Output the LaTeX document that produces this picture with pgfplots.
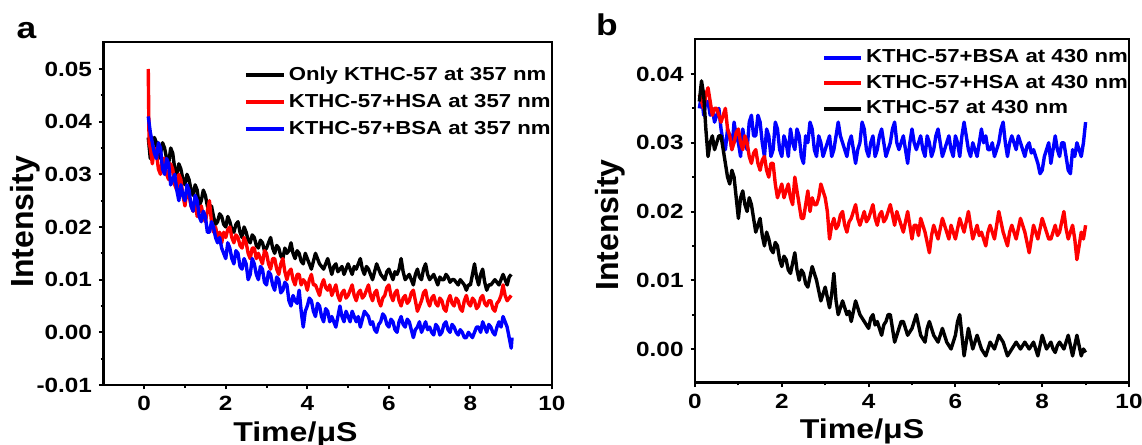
\documentclass[border=0pt]{standalone}
\usepackage{fontspec}
\setmainfont{Liberation Sans}[FakeStretch=1.18]
\newfontfamily\plainsans{Liberation Sans}
\usepackage{pgfplots}
\pgfplotsset{compat=1.18}

% intensities are typed in units of 1e-3
\pgfplotsset{
  decay/.style={
    scale only axis,
    anchor=south west,
    axis line style={line width=1.2pt},
    tick style={line width=1pt, black},
    tick align=outside,
    major tick length=2.2pt,
    minor tick length=1.4pt,
    xtick pos=bottom, ytick pos=left,
    xtick={0,2,...,10},
    minor xtick={1,3,...,9},
    tick label style={font=\fontsize{10.3}{12}\selectfont\bfseries},
    /pgf/number format/assume math mode=true,
    xlabel={Time/μS},
    ylabel={Intensity},
    xlabel style={font=\fontsize{13.6}{15}\selectfont\bfseries, anchor=center},
    ylabel style={font=\plainsans\fontsize{16}{18}\selectfont\bfseries, anchor=center},
    legend cell align=left,
    every axis plot/.append style={line width=1.7pt, line join=round},
  },
  leg/.style={
    legend style={at={(axis description cs:#1)}, anchor=north west,
      draw=none, fill=none, font=\fontsize{9.4}{11}\selectfont\bfseries,
      inner sep=0pt,
      nodes={text height=7pt, text depth=2pt, inner sep=1.5pt}},
  },
}

\begin{document}
\begin{tikzpicture}
\useasboundingbox (0,0) rectangle (571pt,222.5pt);

% panel a
\begin{axis}[decay,
  at={(51.7pt,30pt)}, width=224.3pt, height=171.35pt,
  xmin=-1, xmax=10, ymin=-10, ymax=55.07,
  ytick={-10,0,10,20,30,40,50},
  yticklabels={-0.01,0.00,0.01,0.02,0.03,0.04,0.05},
  minor ytick={-5,5,15,25,35,45},
  x label style={at={(axis description cs:0.428,0)}, yshift=-24.5pt},
  y label style={at={(axis description cs:0,0.476)}, yshift=39pt},
  leg={0.312,0.9396},
  legend style={row sep=1.5pt, /tikz/every even column/.append style={column sep=0.8pt}},
  legend image code/.code={\draw[#1, line width=2pt] (0pt,0pt) -- (19pt,0pt);},
]
\addplot[black] coordinates {
(0.1,37)(0.15,33)(0.2,35)(0.25,37)(0.3,36)(0.35,33)(0.4,34)(0.45,36)(0.5,35)(0.55,33)
(0.6,32)(0.65,35)(0.7,34)(0.75,31)(0.8,30)(0.85,32)(0.9,31)(0.95,29)(1.0,28)(1.05,30)
(1.1,29)(1.15,27)(1.2,26)(1.25,28)(1.3,27)(1.35,24)(1.4,25)(1.45,27)(1.5,26)(1.55,24)
(1.6,23)(1.65,24)(1.7,22)(1.75,20.5)(1.8,21)(1.85,22.5)(1.9,22)(1.95,20.5)(2.0,20)(2.05,22)
(2.1,21)(2.15,19.5)(2.2,19)(2.25,20.5)(2.3,21)(2.35,19)(2.4,18)(2.45,20)(2.5,19)(2.55,17.5)
(2.6,17)(2.65,18.5)(2.7,18)(2.75,16.5)(2.8,16)(2.85,17.5)(2.9,17)(2.95,15.5)(3.0,16)(3.05,17)
(3.1,18)(3.15,16)(3.2,15)(3.25,16.5)(3.3,16)(3.35,14.5)(3.4,14)(3.45,16)(3.5,15)(3.55,15.5)
(3.6,17)(3.65,15)(3.7,14)(3.75,15.5)(3.8,15)(3.85,13.5)(3.9,13)(3.95,15)(4.0,14)(4.05,13)
(4.1,12)(4.15,13.5)(4.2,15)(4.25,14)(4.3,13)(4.35,12.5)(4.4,12)(4.45,13)(4.5,14)(4.55,12.5)
(4.6,11)(4.65,12.5)(4.7,13)(4.75,11.5)(4.8,12)(4.85,12.5)(4.9,11)(4.95,12)(5.0,13)(5.05,12)
(5.1,11)(5.15,12.5)(5.2,12)(5.25,13)(5.3,14)(5.35,12)(5.4,11)(5.45,12.5)(5.5,12)(5.55,11)
(5.6,10)(5.65,11.5)(5.7,13)(5.75,12)(5.8,11)(5.85,10.5)(5.9,10)(5.95,11.5)(6.0,12)(6.05,11)
(6.1,10)(6.15,11.5)(6.2,11)(6.25,12)(6.3,14)(6.35,11.5)(6.4,10)(6.45,10.5)(6.5,11)(6.55,10)
(6.6,9)(6.65,11)(6.7,12)(6.75,10.5)(6.8,10)(6.85,12)(6.9,13)(6.95,11)(7.0,10)(7.05,10.5)
(7.1,11)(7.15,10)(7.2,9)(7.25,10.5)(7.3,10)(7.35,10)(7.4,11)(7.45,10.5)(7.5,9.5)(7.55,10)
(7.6,10)(7.65,9.5)(7.7,9)(7.75,10)(7.8,9.5)(7.85,9)(7.9,8)(7.95,9)(8.0,9)(8.05,11)
(8.1,13)(8.15,10.5)(8.2,9)(8.25,11)(8.3,12)(8.35,9.5)(8.4,8)(8.45,9)(8.5,9)(8.55,9.5)
(8.6,10)(8.65,9.5)(8.7,9)(8.75,10)(8.8,11)(8.85,10)(8.9,9)(8.95,10.5)(9.0,11)
};
\addlegendentry{Only KTHC-57 at 357 nm}
\addplot[red] coordinates {
(0.1,50)(0.12,36)(0.15,35)(0.2,32)(0.25,35)(0.3,34)(0.35,31)(0.4,30)(0.45,33)(0.5,33)
(0.55,30)(0.6,29)(0.65,32)(0.7,31)(0.75,28)(0.8,27)(0.85,30)(0.9,29)(0.95,26)(1.0,24)
(1.05,27)(1.1,26)(1.15,24)(1.2,23)(1.25,24.5)(1.3,22)(1.35,23)(1.4,24)(1.45,22)(1.5,21)
(1.55,23)(1.6,25)(1.65,21)(1.7,19)(1.75,20)(1.8,18)(1.85,19)(1.9,17)(1.95,19)(2.0,18)
(2.05,19.5)(2.1,20)(2.15,18)(2.2,17)(2.25,18.5)(2.3,18)(2.35,16.5)(2.4,16)(2.45,18)(2.5,17)
(2.55,15)(2.6,14)(2.65,16)(2.7,16)(2.75,14)(2.8,15)(2.85,14)(2.9,13)(2.95,15.5)(3.0,15)
(3.05,13)(3.1,12)(3.15,14)(3.2,14)(3.25,12)(3.3,11)(3.35,13)(3.4,14)(3.45,11.5)(3.5,10)
(3.55,11.5)(3.6,12)(3.65,10)(3.7,9)(3.75,11)(3.8,11)(3.85,9)(3.9,10)(3.95,9.5)(4.0,8)
(4.05,10)(4.1,11)(4.15,9)(4.2,9)(4.25,8)(4.3,7)(4.35,9)(4.4,10)(4.45,8.5)(4.5,8)
(4.55,9)(4.6,7)(4.65,8)(4.7,9)(4.75,7)(4.8,6)(4.85,7.5)(4.9,8)(4.95,6.5)(5.0,7)
(5.05,8)(5.1,9)(5.15,7)(5.2,6)(5.25,7.5)(5.3,8)(5.35,6.5)(5.4,7)(5.45,8)(5.5,9)
(5.55,7)(5.6,6)(5.65,7.5)(5.7,8)(5.75,6)(5.8,5)(5.85,6.5)(5.9,7)(5.95,8.5)(6.0,9)
(6.05,7)(6.1,6)(6.15,7.5)(6.2,8)(6.25,6)(6.3,5)(6.35,6.5)(6.4,7)(6.45,5.5)(6.5,6)
(6.55,7.5)(6.6,8)(6.65,6)(6.7,4)(6.75,5)(6.8,6)(6.85,7.5)(6.9,8)(6.95,6)(7.0,5)
(7.05,6.5)(7.1,7)(7.15,5.5)(7.2,5)(7.25,6.5)(7.3,6)(7.35,4.5)(7.4,4)(7.45,6)(7.5,7)
(7.55,5.5)(7.6,5)(7.65,6.5)(7.7,6)(7.75,4.5)(7.8,4)(7.85,6)(7.9,7)(7.95,5.5)(8.0,5)
(8.05,6.5)(8.1,6)(8.15,4.5)(8.2,5)(8.25,6.5)(8.3,7)(8.35,5.5)(8.4,5)(8.45,6)(8.5,6)
(8.55,4.5)(8.6,4)(8.65,5.5)(8.7,6)(8.75,7)(8.8,9)(8.85,7)(8.9,6)(8.95,6.5)(9.0,7)
};
\addlegendentry{KTHC-57+HSA at 357 nm}
\addplot[blue] coordinates {
(0.1,41)(0.15,38)(0.2,36)(0.25,34)(0.3,33)(0.35,36)(0.4,35)(0.45,31)(0.5,30)(0.55,33)
(0.6,32)(0.65,28)(0.7,29)(0.75,30)(0.8,27)(0.85,25)(0.9,28)(0.95,26)(1.0,25)(1.05,28)
(1.1,27)(1.15,24)(1.2,23)(1.25,26)(1.3,25)(1.35,22)(1.4,21)(1.45,23)(1.5,22)(1.55,19)
(1.6,19)(1.65,21)(1.7,20)(1.75,18)(1.8,17)(1.85,18)(1.9,16)(1.95,15)(2.0,14)(2.05,17)
(2.1,16)(2.15,14)(2.2,13)(2.25,15.5)(2.3,15)(2.35,12.5)(2.4,12)(2.45,14)(2.5,13)(2.55,10)
(2.6,11)(2.65,14)(2.7,13)(2.75,11)(2.8,10)(2.85,12.5)(2.9,12)(2.95,9.5)(3.0,9)(3.05,11.5)
(3.1,11)(3.15,9)(3.2,8)(3.25,10.5)(3.3,10)(3.35,7.5)(3.4,8)(3.45,9.5)(3.5,9)(3.55,6)
(3.6,5)(3.65,7)(3.7,6)(3.75,5.5)(3.8,8)(3.85,4)(3.9,1)(3.95,4)(4.0,5)(4.05,6.5)
(4.1,6)(4.15,4)(4.2,3)(4.25,5.5)(4.3,5)(4.35,3)(4.4,2)(4.45,4.5)(4.5,4)(4.55,2)
(4.6,3)(4.65,2)(4.7,1)(4.75,3)(4.8,5)(4.85,3)(4.9,2)(4.95,4)(5.0,3)(5.05,2)
(5.1,4)(5.15,3)(5.2,2)(5.25,3)(5.3,1)(5.35,2.5)(5.4,4)(5.45,3.5)(5.5,3)(5.55,1.5)
(5.6,2)(5.65,0.5)(5.7,0)(5.75,1.5)(5.8,2)(5.85,3.5)(5.9,3)(5.95,1.5)(6.0,1)(6.05,2.5)
(6.1,2)(6.15,0.5)(6.2,0)(6.25,2)(6.3,3)(6.35,1.5)(6.4,1)(6.45,2.5)(6.5,2)(6.55,0.5)
(6.6,-1)(6.65,0.5)(6.7,1)(6.75,2)(6.8,0)(6.85,1)(6.9,2)(6.95,0.5)(7.0,1)(7.05,0)
(7.1,-0.5)(7.15,1.5)(7.2,1)(7.25,-0.5)(7.3,0)(7.35,1.5)(7.4,2)(7.45,0.5)(7.5,0)(7.55,1.5)
(7.6,1)(7.65,0)(7.7,-0.5)(7.75,0.5)(7.8,0)(7.85,-1)(7.9,-1)(7.95,0)(8.0,-0.5)(8.05,-1)
(8.1,0)(8.15,1)(8.2,1)(8.25,0)(8.3,2)(8.35,1)(8.4,0)(8.45,1.5)(8.5,1)(8.55,0)
(8.6,-0.5)(8.65,1)(8.7,2)(8.75,1)(8.8,3)(8.85,2)(8.9,1)(8.95,-1)(9.0,-3)(9.02,-1)
};
\addlegendentry{KTHC-57+BSA at 357 nm}
\end{axis}

% panel b
\begin{axis}[decay,
  at={(347.5pt,31.15pt)}, width=217pt, height=171.7pt,
  xmin=0, xmax=10, ymin=-4.9, ymax=45.05,
  ytick={0,10,20,30,40},
  yticklabels={0.00,0.01,0.02,0.03,0.04},
  minor ytick={-5,5,15,25,35},
  x label style={at={(axis description cs:0.385,0)}, yshift=-24.5pt},
  y label style={at={(axis description cs:0,0.459)}, yshift=42.5pt},
  leg={0.2917,0.983},
  legend style={row sep=0.75pt, /tikz/every even column/.append style={column sep=2.5pt}},
  legend image code/.code={\draw[#1, line width=2pt] (0pt,0pt) -- (18.5pt,0pt);},
]
\addplot[blue] coordinates {
(0.1,35)(0.15,37)(0.2,34)(0.25,36)(0.3,36)(0.35,34)(0.4,35)(0.45,33)(0.5,34)(0.55,35)
(0.6,32)(0.65,30)(0.7,29)(0.75,32)(0.8,31)(0.85,29)(0.9,33)(0.95,31)(1.0,30)(1.05,28)
(1.1,32)(1.15,30)(1.2,29)(1.25,33)(1.3,34)(1.35,31)(1.4,31)(1.45,34)(1.5,33)(1.55,30)
(1.6,28)(1.65,32)(1.7,31)(1.75,28)(1.8,29)(1.85,33)(1.9,32)(1.95,29)(2.0,28)(2.05,31)
(2.1,30)(2.15,28)(2.2,32)(2.25,30)(2.3,29)(2.35,32)(2.4,31)(2.45,28)(2.5,27)(2.55,31)
(2.6,30)(2.65,33)(2.7,32)(2.75,29)(2.8,28)(2.85,31)(2.9,30)(2.95,28)(3.0,29)(3.05,30)
(3.1,31)(3.15,28)(3.2,29)(3.25,31)(3.3,33)(3.35,31)(3.4,30)(3.45,29)(3.5,28)(3.55,30)
(3.6,31)(3.65,29)(3.7,27)(3.75,29)(3.8,30)(3.85,33)(3.9,32)(3.95,29)(4.0,28)(4.05,30)
(4.1,31)(4.15,28)(4.2,29)(4.25,31)(4.3,32)(4.35,30)(4.4,28)(4.45,29)(4.5,30)(4.55,32)
(4.6,33)(4.65,30)(4.7,29)(4.75,30)(4.8,31)(4.85,29)(4.9,27)(4.95,30)(5.0,32)(5.05,30)
(5.1,29)(5.15,30)(5.2,31)(5.25,29)(5.3,28)(5.35,31)(5.4,30)(5.45,28)(5.5,29)(5.55,31)
(5.6,32)(5.65,30)(5.7,28)(5.75,29)(5.8,30)(5.85,31)(5.9,29)(5.95,28)(6.0,31)(6.05,30)
(6.1,28)(6.15,31)(6.2,33)(6.25,31)(6.3,29)(6.35,28)(6.4,30)(6.45,29)(6.5,28)(6.55,30)
(6.6,32)(6.65,30)(6.7,31)(6.75,29)(6.8,29)(6.85,30)(6.9,28)(6.95,29)(7.0,30)(7.05,32)
(7.1,33)(7.15,30)(7.2,28)(7.25,30)(7.3,31)(7.35,30)(7.4,29)(7.45,31)(7.5,30)(7.55,29)
(7.6,28)(7.65,29.5)(7.7,30)(7.75,28.5)(7.8,29)(7.85,28)(7.9,27)(7.95,25.5)(8.0,26)(8.05,28)
(8.1,29)(8.15,30)(8.2,27)(8.25,29)(8.3,31)(8.35,29)(8.4,28)(8.45,30)(8.5,30)(8.55,28)
(8.6,26)(8.65,25.5)(8.7,29)(8.75,28)(8.8,30)(8.85,29)(8.9,28)(8.95,30)(9.0,33)
};
\addlegendentry{KTHC-57+BSA at 430 nm}
\addplot[red] coordinates {
(0.1,37)(0.15,36)(0.2,35)(0.25,37)(0.3,38)(0.35,36)(0.4,34)(0.45,35)(0.5,35)(0.55,34)
(0.6,33)(0.65,34)(0.7,35)(0.75,32)(0.8,31)(0.85,29)(0.9,30)(0.95,31.5)(1.0,32)(1.05,30)
(1.1,29)(1.15,31)(1.2,30)(1.25,28)(1.3,27)(1.35,28.5)(1.4,29)(1.45,27)(1.5,26)(1.55,27.5)
(1.6,28)(1.65,26)(1.7,25)(1.75,27)(1.8,27)(1.85,24)(1.9,22)(1.95,23)(2.0,24)(2.05,22)
(2.1,23)(2.15,24)(2.2,22)(2.25,21)(2.3,25)(2.35,23)(2.4,21)(2.45,19)(2.5,19)(2.55,21)
(2.6,23)(2.65,20)(2.7,22)(2.75,21)(2.8,21)(2.85,22)(2.9,24)(2.95,23)(3.0,22)(3.05,20)
(3.1,16)(3.15,18)(3.2,19)(3.25,17.5)(3.3,18)(3.35,19.5)(3.4,20)(3.45,18)(3.5,17)(3.55,18.5)
(3.6,19)(3.65,20)(3.7,21)(3.75,19)(3.8,18)(3.85,19)(3.9,20)(3.95,18.5)(4.0,19)(4.05,20)
(4.1,21)(4.15,19)(4.2,18)(4.25,19.5)(4.3,20)(4.35,18.5)(4.4,19)(4.45,20)(4.5,21)(4.55,19.5)
(4.6,18)(4.65,20)(4.7,19)(4.75,18)(4.8,17)(4.85,18.5)(4.9,20)(4.95,18)(5.0,16)(5.05,18)
(5.1,18)(5.15,16.5)(5.2,19)(5.25,18)(5.3,17)(5.35,15.5)(5.4,14)(5.45,16.5)(5.5,18)(5.55,17)
(5.6,16)(5.65,17.5)(5.7,19)(5.75,18)(5.8,17)(5.85,16)(5.9,18)(5.95,17)(6.0,16)(6.05,17.5)
(6.1,19)(6.15,18)(6.2,17)(6.25,18.5)(6.3,20)(6.35,18)(6.4,16)(6.45,17)(6.5,18)(6.55,16.5)
(6.6,17)(6.65,16)(6.7,15)(6.75,17)(6.8,18)(6.85,17)(6.9,16)(6.95,18)(7.0,20)(7.05,18.5)
(7.1,17)(7.15,16)(7.2,15)(7.25,17)(7.3,18)(7.35,17)(7.4,16)(7.45,17.5)(7.5,19)(7.55,18)
(7.6,17)(7.65,15.5)(7.7,14)(7.75,16)(7.8,18)(7.85,17)(7.9,16)(7.95,17.5)(8.0,19)(8.05,18)
(8.1,17)(8.15,16)(8.2,16)(8.25,17)(8.3,18)(8.35,16.5)(8.4,17)(8.45,18.5)(8.5,20)(8.55,17.5)
(8.6,16)(8.65,17)(8.7,18)(8.75,16)(8.8,13)(8.85,15)(8.9,17)(8.95,16)(9.0,18)
};
\addlegendentry{KTHC-57+HSA at 430 nm}
\addplot[black] coordinates {
(0.1,36)(0.15,39)(0.2,37)(0.25,32)(0.3,28)(0.35,30)(0.4,31)(0.45,29)(0.5,30)(0.55,31)
(0.6,31)(0.65,29)(0.7,27)(0.75,25)(0.8,24)(0.85,26)(0.9,25)(0.95,22)(1.0,19)(1.05,22)
(1.1,23)(1.15,21)(1.2,20)(1.25,22)(1.3,21)(1.35,19)(1.4,17)(1.45,18)(1.5,19)(1.55,16.5)
(1.6,15)(1.65,17)(1.7,16)(1.75,14.5)(1.8,14)(1.85,15.5)(1.9,15)(1.95,13)(2.0,12)(2.05,13.5)
(2.1,13)(2.15,11.5)(2.2,11)(2.25,12.5)(2.3,14)(2.35,11.5)(2.4,10)(2.45,11.5)(2.5,11)(2.55,9.5)
(2.6,9)(2.65,10.5)(2.7,12)(2.75,11)(2.8,10)(2.85,8.5)(2.9,7)(2.95,8)(3.0,9)(3.05,7.5)
(3.1,6)(3.15,8)(3.2,11)(3.25,7)(3.3,5)(3.35,6)(3.4,7)(3.45,6)(3.5,5)(3.55,5.5)
(3.6,4)(3.65,5.5)(3.7,7)(3.75,6)(3.8,5)(3.85,4.5)(3.9,4)(3.95,3.5)(4.0,3)(4.05,4.5)
(4.1,5)(4.15,3.5)(4.2,4)(4.25,3)(4.3,2)(4.35,3.5)(4.4,4)(4.45,5)(4.5,5)(4.55,3)
(4.6,1)(4.65,2)(4.7,3)(4.75,4)(4.8,4)(4.85,3)(4.9,2)(4.95,2.5)(5.0,3)(5.05,4)
(5.1,5)(5.15,3.5)(5.2,2)(5.25,1.5)(5.3,1)(5.35,3)(5.4,4)(5.45,3)(5.5,2)(5.55,1.5)
(5.6,1)(5.65,2)(5.7,3)(5.75,2)(5.8,1)(5.85,0.5)(5.9,0)(5.95,1)(6.0,2)(6.05,4)
(6.1,5)(6.15,2)(6.2,-1)(6.25,1)(6.3,3)(6.35,1.5)(6.4,0)(6.45,1)(6.5,2)(6.55,1)
(6.6,0)(6.65,-0.5)(6.7,-1)(6.75,0)(6.8,1)(6.85,0.5)(6.9,0)(6.95,1)(7.0,2)(7.05,1.5)
(7.1,1)(7.15,0)(7.2,-1)(7.25,-0.5)(7.3,0)(7.35,0.5)(7.4,1)(7.45,0.5)(7.5,0)(7.55,0.5)
(7.6,1)(7.65,0.5)(7.7,0)(7.75,0.5)(7.8,1)(7.85,0)(7.9,-1)(7.95,0.5)(8.0,2)(8.05,1)
(8.1,0)(8.15,0.5)(8.2,1)(8.25,0)(8.3,-0.5)(8.35,0.5)(8.4,1)(8.45,0.5)(8.5,0)(8.55,1)
(8.6,2)(8.65,0.5)(8.7,-1)(8.75,0.5)(8.8,2)(8.85,0.5)(8.9,-1)(8.95,0)(9.0,-0.5)
};
\addlegendentry{KTHC-57 at 430 nm}
\end{axis}

\node[font=\fontsize{15}{17}\selectfont\bfseries] at (13.25pt,207pt) {a};
\node[font=\fontsize{15}{17}\selectfont\bfseries] at (303.5pt,210pt) {b};
\end{tikzpicture}
\end{document}
